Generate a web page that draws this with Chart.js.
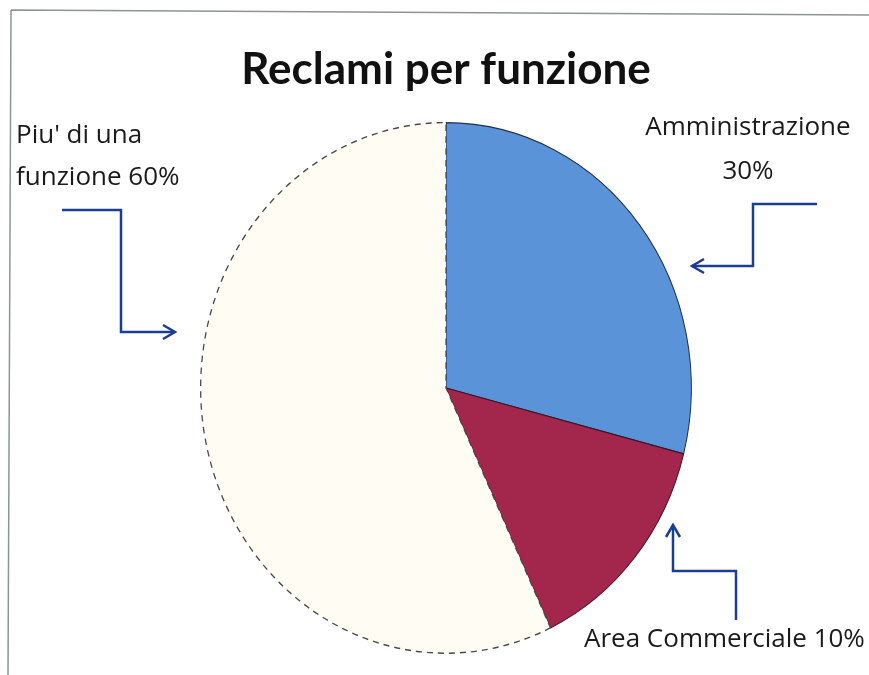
<!DOCTYPE html>
<html>
<head>
<meta charset="utf-8">
<script src="https://cdn.jsdelivr.net/npm/chart.js@4/dist/chart.umd.min.js"></script>
<style>
  html, body { margin: 0; padding: 0; background: #fff; }
  canvas { display: block; }
</style>
</head>
<body>
<canvas id="chart" width="869" height="675"></canvas>
<script>
// Slice data (labels carry the printed percentages)
const categories = ['Amministrazione', 'Area Commerciale', "Piu' di una funzione"];
const values = [29, 14, 57];
const labelTexts = [['Amministrazione', '30%'], ['Area Commerciale 10%'], ["Piu' di una", 'funzione 60%']];

const sliceColors = ['#5b93d8', '#a3264c', '#fffcf3'];
const arrowColor = '#1d3c93';

// the scanned pie is a bit taller than wide
const stretchY = 266 / 246;

const stretchPlugin = {
  id: 'stretch',
  beforeDatasetsDraw(chart) {
    const arc = chart.getDatasetMeta(0).data[0];
    const ctx = chart.ctx;
    ctx.save();
    ctx.translate(arc.x, arc.y);
    ctx.scale(1, stretchY);
    ctx.translate(-arc.x, -arc.y);
  },
  afterDatasetsDraw(chart) {
    chart.ctx.restore();
  },
};

function arrowHead(ctx, x, y, dir) {
  // open V head, dir: 'left' | 'right' | 'up'
  const l = 12, w = 7;
  ctx.beginPath();
  if (dir === 'right') {
    ctx.moveTo(x - l, y - w); ctx.lineTo(x, y); ctx.lineTo(x - l, y + w);
  } else if (dir === 'left') {
    ctx.moveTo(x + l, y - w); ctx.lineTo(x, y); ctx.lineTo(x + l, y + w);
  } else {
    ctx.moveTo(x - w, y + l); ctx.lineTo(x, y); ctx.lineTo(x + w, y + l);
  }
  ctx.stroke();
}

function polyline(ctx, pts) {
  ctx.beginPath();
  ctx.moveTo(pts[0][0], pts[0][1]);
  for (let i = 1; i < pts.length; i++) ctx.lineTo(pts[i][0], pts[i][1]);
  ctx.stroke();
}

const annotationPlugin = {
  id: 'annotations',
  beforeDraw(chart) {
    const ctx = chart.ctx;
    ctx.save();
    ctx.fillStyle = '#ffffff';
    ctx.fillRect(0, 0, chart.width, chart.height);
    // scan frame
    ctx.strokeStyle = '#8c9494';
    ctx.lineWidth = 1.5;
    ctx.beginPath();
    ctx.moveTo(11, 10);
    ctx.lineTo(869, 15);
    ctx.moveTo(11, 10);
    ctx.lineTo(8, 675);
    ctx.stroke();
    ctx.restore();
  },
  afterDraw(chart) {
    const ctx = chart.ctx;
    ctx.save();
    ctx.fillStyle = '#1a1a1a';
    ctx.font = '26px "Open Sans", sans-serif';
    ctx.textBaseline = 'alphabetic';

    ctx.textAlign = 'left';
    ctx.fillText(labelTexts[2][0], 16, 143);
    ctx.fillText(labelTexts[2][1], 16, 185);

    ctx.textAlign = 'center';
    ctx.fillText(labelTexts[0][0], 748, 135);
    ctx.fillText(labelTexts[0][1], 748, 179);

    ctx.textAlign = 'left';
    ctx.fillText(labelTexts[1][0], 584, 647);

    // arrows
    ctx.strokeStyle = arrowColor;
    ctx.lineWidth = 2.5;
    ctx.lineJoin = 'miter';
    polyline(ctx, [[62, 210], [121, 210], [121, 332], [175, 332]]);
    arrowHead(ctx, 175, 332, 'right');

    polyline(ctx, [[817, 204], [753, 204], [753, 266], [692, 266]]);
    arrowHead(ctx, 692, 266, 'left');

    polyline(ctx, [[736, 620], [736, 571], [673, 571], [673, 525]]);
    arrowHead(ctx, 673, 525, 'up');
    ctx.restore();
  },
};

new Chart(document.getElementById('chart').getContext('2d'), {
  type: 'pie',
  data: {
    labels: categories,
    datasets: [{
      data: values,
      backgroundColor: sliceColors,
      borderColor: ['#1f3050', '#4a1020', '#4a4a4a'],
      borderWidth: [1, 1, 1.3],
      borderDash: (c) => (c.dataIndex === 2 ? [6, 5] : []),
    }],
  },
  options: {
    responsive: false,
    animation: false,
    layout: {
      padding: { left: 200, right: 177, top: 0, bottom: 41 },
    },
    plugins: {
      legend: { display: false },
      tooltip: { enabled: false },
      title: {
        display: true,
        text: 'Reclami per funzione',
        color: '#111111',
        font: { family: 'Lato', size: 44, weight: 'bold', lineHeight: 1.2 },
        padding: { top: 43, bottom: 46 },
      },
    },
  },
  plugins: [stretchPlugin, annotationPlugin],
});
</script>
</body>
</html>
